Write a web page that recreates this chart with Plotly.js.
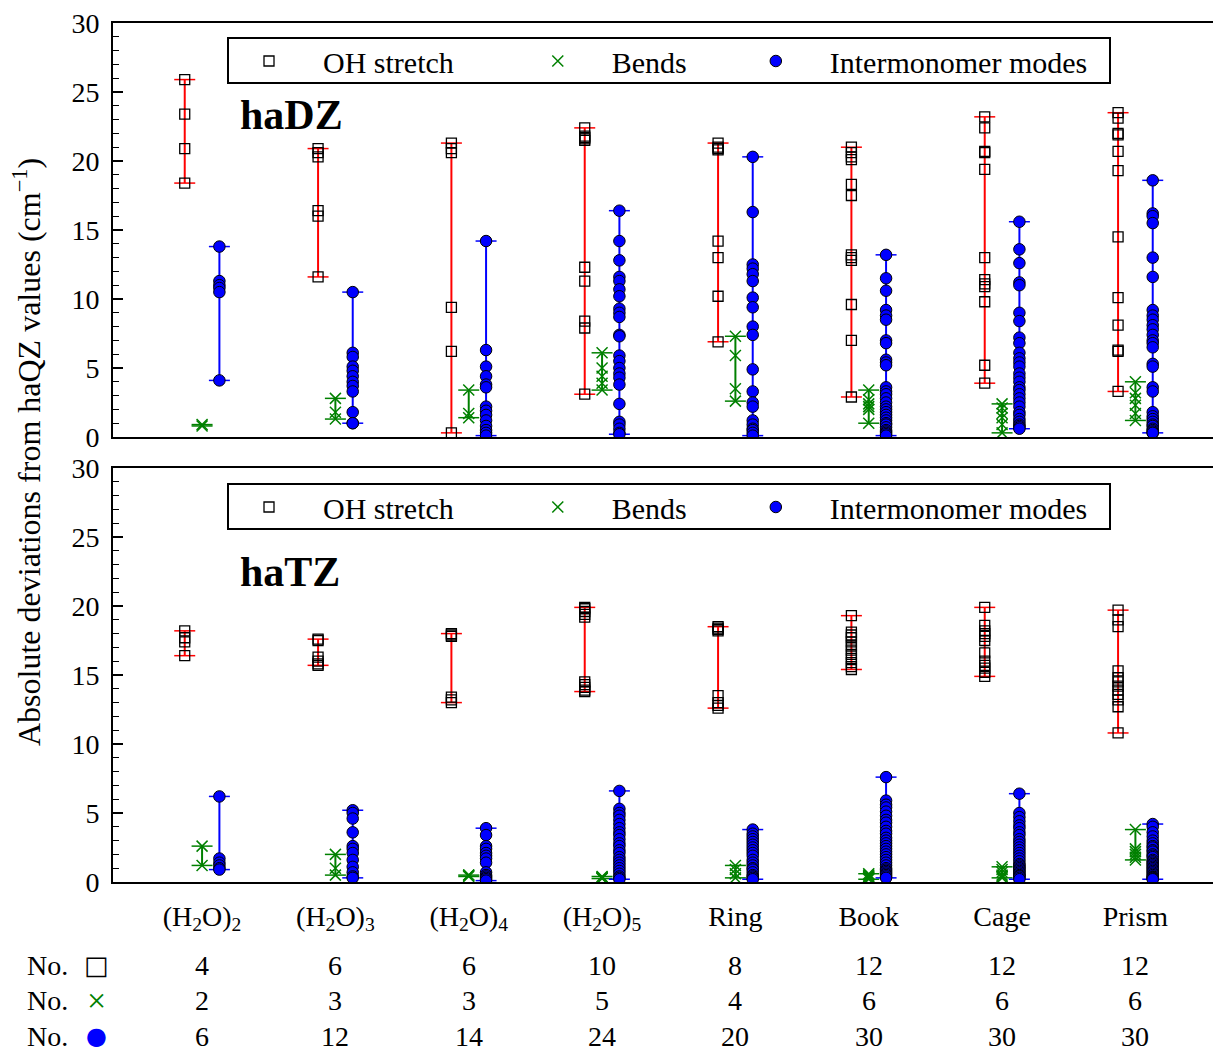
<!DOCTYPE html>
<html>
<head>
<meta charset="utf-8">
<script src="https://cdn.plot.ly/plotly-3.0.1.min.js"></script>
<style>html,body{margin:0;padding:0;background:#fff;}#chart{width:1213px;height:1053px;}</style>
</head>
<body>
<div id="chart"></div>
<script>
// ---------- data ----------
const categories = ['(H<sub>2</sub>O)<sub>2</sub>', '(H<sub>2</sub>O)<sub>3</sub>', '(H<sub>2</sub>O)<sub>4</sub>',
  '(H<sub>2</sub>O)<sub>5</sub>', 'Ring', 'Book', 'Cage', 'Prism'];

// haDZ panel
const dzOH = [
  [25.9, 23.4, 20.9, 18.4],
  [20.9, 20.6, 20.3, 16.4, 16.0, 11.6],
  [21.3, 20.9, 20.6, 9.4, 6.2, 0.3],
  [22.4, 21.8, 21.7, 21.6, 21.5, 12.3, 11.3, 8.4, 7.9, 3.1],
  [21.3, 21.0, 20.9, 20.8, 14.2, 13.0, 10.2, 6.9],
  [21.0, 20.6, 20.3, 20.1, 18.3, 17.5, 13.2, 13.0, 12.8, 9.6, 7.0, 2.9],
  [23.2, 22.4, 20.7, 20.6, 19.4, 13.0, 11.4, 11.1, 10.9, 9.8, 5.2, 3.9],
  [23.5, 23.1, 22.0, 21.9, 20.7, 19.3, 14.5, 10.1, 8.1, 6.3, 6.2, 3.3]
];
const dzBend = [
  [0.9, 0.8],
  [2.8, 1.8, 1.3],
  [3.4, 1.7, 1.4],
  [6.1, 5.0, 4.4, 3.9, 3.4],
  [7.3, 5.9, 3.5, 2.6],
  [3.4, 2.7, 2.4, 2.2, 2.0, 1.0],
  [2.4, 2.1, 1.7, 1.4, 0.9, 0.3],
  [4.0, 3.2, 2.8, 2.3, 1.7, 1.2]
];
const dzInter = [
  [13.8, 11.3, 11.0, 10.8, 10.5, 4.1],
  [10.5, 6.1, 5.8, 5.1, 4.8, 4.4, 4.0, 3.7, 3.3, 1.8, 1.0, 1.0],
  [14.2, 6.3, 5.1, 4.4, 3.8, 3.6, 2.2, 1.9, 1.6, 1.2, 0.8, 0.5, 0.3, 0.1],
  [16.4, 14.2, 12.8, 11.6, 11.3, 10.7, 10.2, 9.3, 9.0, 8.7, 7.4, 7.3, 5.9, 5.5, 5.0, 4.6, 4.3, 3.8, 2.4, 1.1, 0.9, 0.6, 0.3, 0.2],
  [20.3, 16.3, 12.5, 12.2, 11.8, 11.3, 10.1, 9.4, 8.0, 7.4, 4.9, 3.3, 2.5, 2.2, 1.2, 0.9, 0.6, 0.5, 0.3, 0.1],
  [13.2, 11.5, 10.6, 9.2, 8.8, 8.5, 7.0, 6.8, 5.6, 5.4, 5.2, 3.6, 3.3, 3.1, 2.8, 2.5, 2.2, 2.0, 1.8, 1.6, 1.4, 1.2, 1.0, 0.9, 0.7, 0.5, 0.4, 0.3, 0.2, 0.1],
  [15.6, 13.6, 12.6, 11.2, 11.0, 9.0, 8.4, 7.2, 6.8, 6.1, 5.7, 5.4, 5.1, 4.6, 4.3, 4.0, 3.6, 3.4, 3.1, 2.8, 2.5, 2.2, 1.8, 1.6, 1.3, 1.1, 0.9, 0.8, 0.7, 0.6],
  [18.6, 16.2, 16.0, 15.5, 13.0, 11.6, 9.2, 8.8, 8.5, 8.1, 7.8, 7.4, 7.0, 6.8, 6.5, 5.3, 5.1, 3.6, 3.3, 1.8, 1.5, 1.3, 1.1, 0.9, 0.8, 0.6, 0.5, 0.4, 0.3, 0.3]
];

// haTZ panel
const tzOH = [
  [18.2, 17.7, 17.4, 16.4],
  [17.6, 17.5, 16.3, 16.0, 15.8, 15.7],
  [18.0, 17.9, 17.8, 13.4, 13.2, 13.0],
  [19.9, 19.8, 19.6, 19.4, 19.2, 14.5, 14.3, 14.1, 13.9, 13.8],
  [18.5, 18.4, 18.3, 18.2, 13.5, 13.0, 12.8, 12.6],
  [19.3, 18.1, 17.9, 17.7, 17.4, 17.1, 16.8, 16.5, 16.2, 15.9, 15.6, 15.4],
  [19.9, 18.6, 18.2, 18.0, 17.8, 17.5, 16.6, 16.0, 15.7, 15.5, 15.2, 14.9],
  [19.7, 19.0, 18.5, 15.3, 14.8, 14.5, 14.2, 13.9, 13.6, 13.2, 12.7, 10.8]
];
const tzBend = [
  [2.6, 1.2],
  [2.0, 1.0, 0.5],
  [0.5, 0.5, 0.4],
  [0.4, 0.35, 0.3, 0.3, 0.25],
  [1.2, 0.9, 0.6, 0.3],
  [0.6, 0.5, 0.4, 0.35, 0.3, 0.2],
  [1.1, 0.9, 0.7, 0.5, 0.4, 0.3],
  [3.8, 2.4, 2.2, 2.0, 1.8, 1.6]
];
const tzInter = [
  [6.2, 1.7, 1.4, 1.2, 1.0, 0.9],
  [5.2, 5.0, 4.6, 3.6, 2.6, 2.4, 2.1, 1.6, 1.1, 0.7, 0.4, 0.3],
  [3.9, 3.4, 2.6, 2.4, 2.1, 1.9, 1.7, 1.4, 0.7, 0.5, 0.4, 0.3, 0.2, 0.1],
  [6.6, 5.3, 5.0, 4.8, 4.5, 4.2, 3.9, 3.6, 3.4, 3.1, 2.8, 2.6, 2.3, 2.1, 1.8, 1.6, 1.4, 1.2, 1.0, 0.8, 0.6, 0.4, 0.3, 0.2],
  [3.8, 3.5, 3.3, 3.1, 2.9, 2.7, 2.5, 2.3, 2.1, 1.9, 1.6, 1.4, 1.2, 1.0, 0.9, 0.7, 0.5, 0.4, 0.3, 0.2],
  [7.6, 5.9, 5.6, 5.4, 5.1, 4.8, 4.5, 4.3, 4.0, 3.7, 3.5, 3.2, 3.0, 2.8, 2.6, 2.4, 2.2, 2.0, 1.8, 1.6, 1.4, 1.2, 1.0, 0.9, 0.8, 0.7, 0.6, 0.5, 0.4, 0.3],
  [6.4, 5.0, 4.7, 4.4, 4.1, 3.9, 3.6, 3.4, 3.1, 2.9, 2.7, 2.5, 2.3, 2.1, 1.9, 1.7, 1.5, 1.3, 1.2, 1.1, 1.0, 0.9, 0.8, 0.7, 0.6, 0.5, 0.45, 0.4, 0.3, 0.2],
  [4.2, 4.0, 3.6, 3.3, 3.0, 2.8, 2.6, 2.5, 2.3, 2.2, 2.0, 1.9, 1.8, 1.6, 1.5, 1.4, 1.3, 1.2, 1.1, 1.0, 0.9, 0.8, 0.7, 0.6, 0.5, 0.4, 0.35, 0.3, 0.25, 0.2]
];

const countOH = [4, 6, 6, 10, 8, 12, 12, 12];
const countBend = [2, 3, 3, 5, 4, 6, 6, 6];
const countInter = [6, 12, 14, 24, 20, 30, 30, 30];

const seriesNames = ['OH stretch', 'Bends', 'Intermonomer modes'];

// ---------- styling ----------
const FONT = "'Liberation Serif', 'Times New Roman', serif";
const W = 1213, H = 1053, ML = 113, MR = 0, MT = 23, MB = 171;
const PW = W - ML - MR, PH = H - MT - MB;
const px = x => (x - ML) / PW;
const py = y => (H - MB - y) / PH;

const styles = [
  {off: -0.13, lineColor: '#ff0000', marker: {symbol: 'square-open', size: 10, color: '#000000', line: {width: 1.3, color: '#000000'}}},
  {off: 0.0, lineColor: '#008000', marker: {symbol: 'x-thin-open', size: 11, color: '#008000', line: {width: 1.5, color: '#008000'}}},
  {off: 0.13, lineColor: '#0000ff', marker: {symbol: 'circle', size: 11.5, color: '#0000ff', line: {width: 1, color: '#000000'}}}
];
const pad = '\u00A0';
const legendLabels = [seriesNames[0] + pad.repeat(6), seriesNames[1] + pad.repeat(4), seriesNames[2]];

const traces = [];
function addPanel(sets, xa, ya, legendId) {
  sets.forEach((set, si) => {
    const st = styles[si];
    const lx = [], ly = [], cx = [], cy = [], mx = [], my = [];
    set.forEach((vals, ci) => {
      const pos = ci + 1 + st.off;
      const mn = Math.min(...vals), mxv = Math.max(...vals);
      lx.push(pos, pos, null); ly.push(mn, mxv, null);
      cx.push(pos, pos); cy.push(mn, mxv);
      vals.forEach(v => { mx.push(pos); my.push(v); });
    });
    traces.push({type: 'scatter', mode: 'lines', x: lx, y: ly, xaxis: xa, yaxis: ya,
      line: {color: st.lineColor, width: 2}, showlegend: false, hoverinfo: 'skip'});
    traces.push({type: 'scatter', mode: 'markers', x: cx, y: cy, xaxis: xa, yaxis: ya,
      marker: {symbol: 'line-ew-open', size: 15, color: st.lineColor, line: {width: 1.5, color: st.lineColor}},
      showlegend: false, hoverinfo: 'skip'});
    traces.push({type: 'scatter', mode: 'markers', x: mx, y: my, xaxis: xa, yaxis: ya,
      name: legendLabels[si], legend: legendId, marker: st.marker, showlegend: true});
  });
}
addPanel([dzOH, dzBend, dzInter], 'x', 'y', 'legend');
addPanel([tzOH, tzBend, tzInter], 'x2', 'y2', 'legend2');

const xRange = [0.332, 8.582];
const baseX = {range: xRange, showgrid: false, zeroline: false, showline: true, mirror: true,
  linewidth: 2, linecolor: '#000', ticks: ''};
const baseY = {range: [0, 30], dtick: 5, tick0: 0, ticks: 'inside', ticklen: 10, tickwidth: 1.5, tickcolor: '#000',
  minor: {dtick: 1, ticks: 'inside', ticklen: 6, tickwidth: 1.2, tickcolor: '#000'},
  showgrid: false, zeroline: false, showline: true, mirror: true, linewidth: 2, linecolor: '#000',
  tickfont: {family: FONT, size: 28, color: '#000'}, ticklabelstandoff: 6};

const legendBase = {orientation: 'h', xanchor: 'left', yanchor: 'middle', x: px(215),
  bgcolor: 'rgba(0,0,0,0)', borderwidth: 0, itemwidth: 98,
  font: {family: FONT, size: 30, color: '#000'}, itemclick: false, itemdoubleclick: false};

const annotations = [
  {text: '<b>haDZ</b>', xref: 'paper', yref: 'paper', x: px(238), y: py(115), xanchor: 'left', yanchor: 'middle',
    showarrow: false, font: {family: FONT, size: 42, color: '#000'}},
  {text: '<b>haTZ</b>', xref: 'paper', yref: 'paper', x: px(238), y: py(572), xanchor: 'left', yanchor: 'middle',
    showarrow: false, font: {family: FONT, size: 42, color: '#000'}},
  {text: 'Absolute deviations from haQZ values (cm<sup>\u22121</sup>)', xref: 'paper', yref: 'paper',
    x: px(27), y: py(452), xanchor: 'center', yanchor: 'middle', textangle: -90, showarrow: false,
    font: {family: FONT, size: 32, color: '#000'}}
];
const rows = [
  {yc: 965, sym: '\u25A1', symColor: '#000', symSize: 26, symFont: 'DejaVu Sans', counts: countOH},
  {yc: 1000, sym: '\u00D7', symColor: '#008000', symSize: 34, symFont: FONT, counts: countBend},
  {yc: 1036, sym: '\u25CF', symColor: '#0000ff', symSize: 24, symFont: 'DejaVu Sans', counts: countInter}
];
rows.forEach(r => {
  annotations.push({text: 'No.', xref: 'paper', yref: 'paper', x: px(47), y: py(r.yc), xanchor: 'center', yanchor: 'middle',
    showarrow: false, font: {family: FONT, size: 28, color: '#000'}});
  annotations.push({text: r.sym, xref: 'paper', yref: 'paper', x: px(96), y: py(r.yc), xanchor: 'center', yanchor: 'middle',
    showarrow: false, font: {family: r.symFont, size: r.symSize, color: r.symColor}});
  r.counts.forEach((c, i) => {
    annotations.push({text: String(c), xref: 'x2', yref: 'paper', x: i + 1, y: py(r.yc), xanchor: 'center', yanchor: 'middle',
      showarrow: false, font: {family: FONT, size: 28, color: '#000'}});
  });
});

const shapes = [
  {type: 'rect', xref: 'paper', yref: 'paper', x0: px(228), x1: px(1110), y0: py(83), y1: py(38),
    line: {color: '#000', width: 2}, fillcolor: '#fff', layer: 'below'},
  {type: 'rect', xref: 'paper', yref: 'paper', x0: px(228), x1: px(1110), y0: py(529), y1: py(484),
    line: {color: '#000', width: 2}, fillcolor: '#fff', layer: 'below'}
];

const layout = {
  width: W, height: H,
  margin: {l: ML, r: MR, t: MT, b: MB, pad: 0},
  paper_bgcolor: '#fff', plot_bgcolor: '#fff',
  font: {family: FONT, size: 28, color: '#000'},
  xaxis: Object.assign({}, baseX, {anchor: 'y', domain: [0, 1], showticklabels: false}),
  yaxis: Object.assign({}, baseY, {anchor: 'x', domain: [py(437), 1]}),
  xaxis2: Object.assign({}, baseX, {anchor: 'y2', domain: [0, 1], tickmode: 'array',
    tickvals: categories.map((c, i) => i + 1), ticktext: categories,
    tickfont: {family: FONT, size: 28, color: '#000'}, ticklabelstandoff: 8}),
  yaxis2: Object.assign({}, baseY, {anchor: 'x2', domain: [0, py(468)]}),
  legend: Object.assign({}, legendBase, {y: py(61)}),
  legend2: Object.assign({}, legendBase, {y: py(507)}),
  annotations: annotations,
  shapes: shapes,
  showlegend: true
};

Plotly.newPlot('chart', traces, layout, {displayModeBar: false, staticPlot: true});
</script>
</body>
</html>
